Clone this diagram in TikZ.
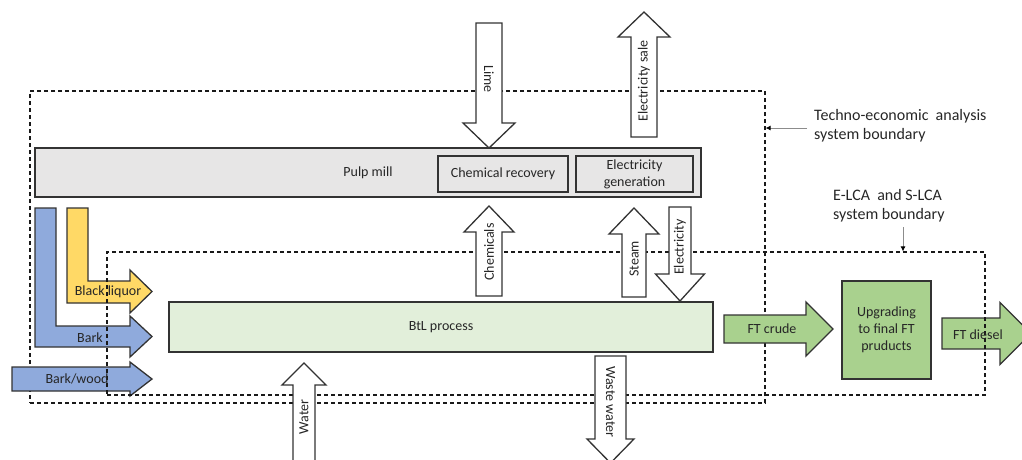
\documentclass[tikz,border=0pt]{standalone}
\usepackage{fontspec}
\setmainfont{Carlito}
\usetikzlibrary{arrows.meta}

\definecolor{pulpgray}{HTML}{E7E6E6}
\definecolor{btlgreen}{HTML}{E2EFDA}
\definecolor{ftgreen}{HTML}{A9D18E}
\definecolor{barkblue}{HTML}{8FAADC}
\definecolor{liquoryellow}{HTML}{FFD966}
\definecolor{edgegray}{HTML}{333333}

% block arrows: centre, tail, head base, tip, half shaft, half head
\newcommand{\VArrow}[6]{({#1-#5},#2) -- ({#1+#5},#2) -- ({#1+#5},#3) -- ({#1+#6},#3) -- (#1,#4) -- ({#1-#6},#3) -- ({#1-#5},#3) -- cycle}
\newcommand{\HArrow}[6]{(#2,{#1-#5}) -- (#3,{#1-#5}) -- (#3,{#1-#6}) -- (#4,#1) -- (#3,{#1+#6}) -- (#3,{#1+#5}) -- (#2,{#1+#5}) -- cycle}

\begin{document}
\begin{tikzpicture}[x=1pt, y=-1pt]
    \tikzset{every node/.style={font=\fontsize{14}{17}\selectfont, text=black!85, inner sep=0pt, align=center}}
    \tikzset{BoundStyle/.style={draw=black!90, line width=1.1pt, dash pattern=on 4pt off 3pt}}
    \tikzset{BoxStyle/.style={draw=edgegray, line width=1.3pt}}
    \tikzset{FlowStyle/.style={draw=edgegray, line width=1.3pt, line join=miter}}
    \tikzset{NoteStyle/.style={font=\fontsize{16}{19}\selectfont, align=left}}
    \tikzset{PointerStyle/.style={draw=black!45, line width=0.9pt, -{Latex[length=5pt, width=5pt, color=black]}}}
    \useasboundingbox (0,0) rectangle (1022,459);

    \node[BoundStyle, minimum width=735pt, minimum height=312pt] (tea) at (397.5,247) {};

    \draw[FlowStyle, fill=barkblue]     \HArrow{379}{12}{130}{152}{12}{17};
    \draw[FlowStyle, fill=barkblue]     (35,208) -- (56,208) -- (56,326) -- (130,326) -- (130,316) -- (152,336.5) -- (130,357) -- (130,347) -- (35,347) -- cycle;
    \draw[FlowStyle, fill=liquoryellow] (67,208) -- (88,208) -- (88,281) -- (130,281) -- (130,270) -- (152,291.5) -- (130,313) -- (130,303) -- (67,303) -- cycle;
    \draw[FlowStyle, fill=ftgreen]      \HArrow{329}{724}{806}{833}{14}{27};
    \draw[FlowStyle, fill=ftgreen]      \HArrow{333.5}{942}{1000}{1031}{15.5}{31};

    \node[BoundStyle, minimum width=878pt, minimum height=143pt] (lca) at (546,323.5) {};

    \node (barkwood) at (77,379)   {Bark/wood};
    \node (bark)     at (90,338)   {Bark};
    \node (liquor)   at (108,292)  {Black liquor};
    \node (ftcrude)  at (772,329)  {FT crude};
    \node (ftdiesel) at (978,335)  {FT diesel};

    \node[BoxStyle, fill=pulpgray, minimum width=666pt, minimum height=49pt] (pulp) at (368,172.5) {Pulp mill};
    \node[BoxStyle, fill=pulpgray, minimum width=130pt, minimum height=36pt] (recovery) at (503,174) {Chemical recovery};
    \node[BoxStyle, fill=pulpgray, minimum width=117pt, minimum height=36pt] (generation) at (634.5,174) {Electricity\\generation};
    \node[BoxStyle, fill=btlgreen, minimum width=544pt, minimum height=50pt] (btl) at (441,327) {BtL process};
    \node[BoxStyle, fill=ftgreen, minimum width=89pt, minimum height=98pt] (upgrade) at (886.5,330) {Upgrading\\to final FT\\pruducts};

    \draw[FlowStyle, fill=white] \VArrow{489}{23}{123}{148}{13}{26};
    \draw[FlowStyle, fill=white] \VArrow{644}{137}{37}{12}{13}{26};
    \draw[FlowStyle, fill=white] \VArrow{489}{296}{232}{206}{13}{25};
    \draw[FlowStyle, fill=white] \VArrow{634}{297}{234}{208}{12}{25};
    \draw[FlowStyle, fill=white] \VArrow{680}{207}{274}{301}{11}{24.5};
    \draw[FlowStyle, fill=white] \VArrow{304}{475}{385}{363}{11}{22};
    \draw[FlowStyle, fill=white] \VArrow{610.5}{356}{439}{463}{15.5}{23.5};

    \node[rotate=-90] (lime)      at (489,79)    {Lime};
    \node[rotate=90]  (sale)      at (644,81)    {Electricity sale};
    \node[rotate=90]  (chemicals) at (489,252)   {Chemicals};
    \node[rotate=90]  (steam)     at (634,259)   {Steam};
    \node[rotate=90]  (power)     at (680,247)   {Electricity};
    \node[rotate=90]  (water)     at (304,417)   {Water};
    \node[rotate=-90] (waste)     at (610.5,402) {Waste water};

    \node[NoteStyle, anchor=west] (tealabel) at (814,125.5) {Techno-economic\ \ analysis\\system boundary};
    \node[NoteStyle, anchor=west] (lcalabel) at (833,206) {E-LCA\ \ and S-LCA\\system boundary};
    \coordinate (teaptr) at (807,128);
    \draw[PointerStyle] (teaptr) -- (teaptr -| tea.east);
    \coordinate (lcaptr) at (903,227);
    \draw[PointerStyle] (lcaptr) -- (lcaptr |- lca.north);
\end{tikzpicture}
\end{document}
